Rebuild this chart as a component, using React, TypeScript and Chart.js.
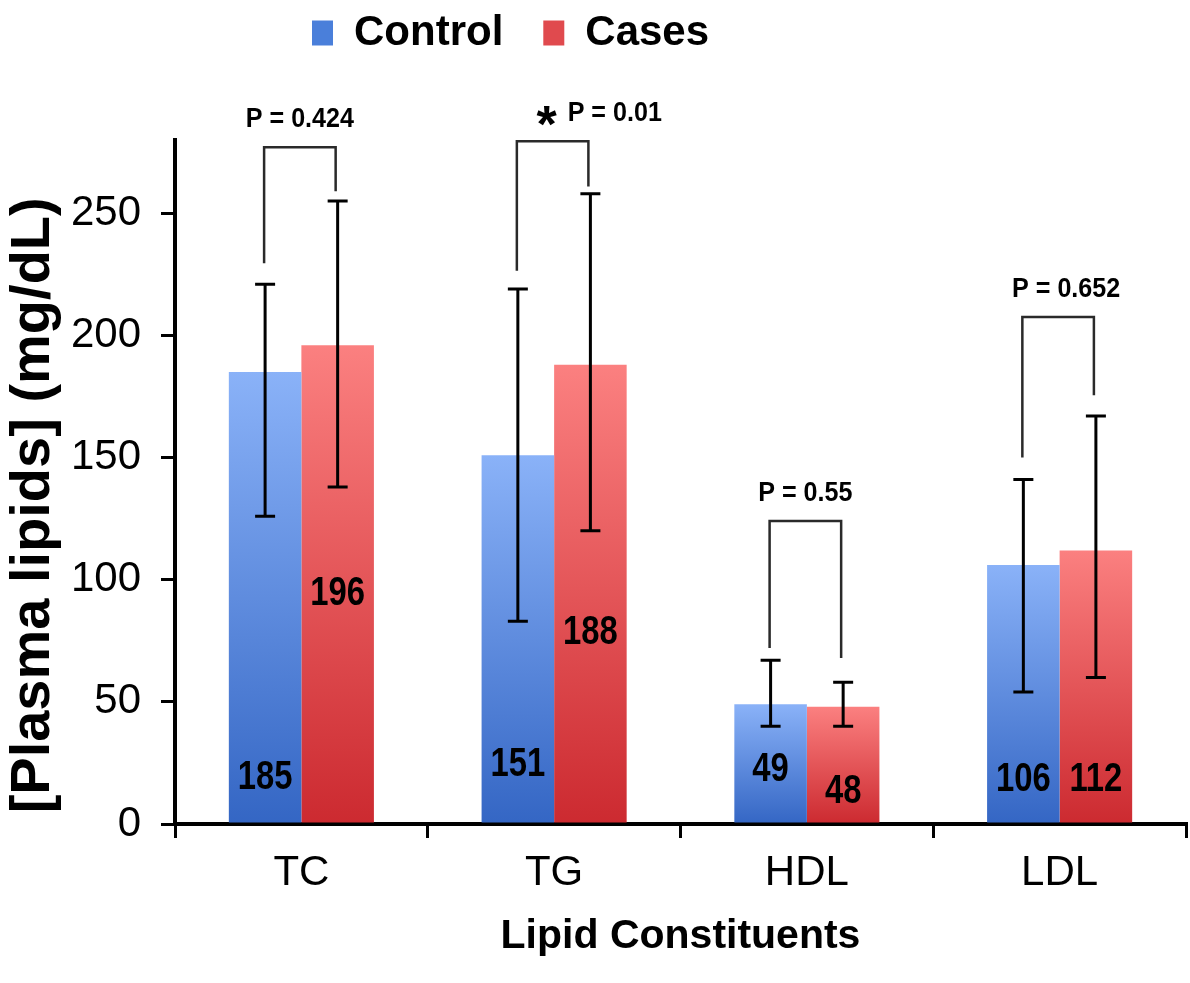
import React, { useEffect, useRef } from 'react';
import { Chart, registerables } from 'chart.js';

Chart.register(...registerables);

// ---------------- data ----------------
const categories = ['TC', 'TG', 'HDL', 'LDL'];
const seriesNames = ['Control', 'Cases'];
const controlValues = [185, 151, 49, 106];
const casesValues = [196, 188, 48, 112];
const controlErrHigh = [221, 219, 67, 141];
const controlErrLow = [126, 83, 40, 54];
const casesErrHigh = [255, 258, 58, 167];
const casesErrLow = [138, 120, 40, 60];
const pLabels = ['P = 0.424', 'P = 0.01', 'P = 0.55', 'P = 0.652'];
const significant = [false, true, false, false];
const bracketTop = [277, 279.5, 124, 207.5];
const bracketLeftEnd = [229.5, 226.5, 72, 150];
const bracketRightEnd = [259, 261, 68, 175.5];
const controlLabelAt = [19, 24, 22, 18];
const casesLabelAt = [94, 78, 13, 18];
const yTicks = [0, 50, 100, 150, 200, 250];
const yMax = 280;
const yTitle = '[Plasma lipids] (mg/dL)\u00A0\u00A0\u00A0';
const xTitle = 'Lipid Constituents';

// ---------------- styles ----------------
const FONT = '"Liberation Sans", Arial, Helvetica, sans-serif';
const NARROW_NAME = 'Liberation Sans Narrow';
const blueTop = '#8AB2F8';
const blueBottom = '#3466C4';
const redTop = '#FB8080';
const redBottom = '#CC2A30';
const legendColors = ['#4A7FDA', '#E04A4E'];

function hasFont(name: string) {
  const c = document.createElement('canvas').getContext('2d');
  if (!c) return false;
  const s = 'Control Cases 0123456789';
  c.font = '40px monospace';
  const a = c.measureText(s).width;
  c.font = `40px "${name}", monospace`;
  const b = c.measureText(s).width;
  return Math.abs(a - b) > 0.5;
}

function gradientFill(top: string, bottom: string) {
  return (c: any) => {
    const chart = c.chart;
    if (!chart.chartArea || c.type !== 'data') return bottom;
    const ys = chart.scales.y;
    const t = ys.getPixelForValue(c.raw);
    const b = ys.getPixelForValue(0);
    const g = chart.ctx.createLinearGradient(0, t, 0, b);
    g.addColorStop(0, top);
    g.addColorStop(1, bottom);
    return g;
  };
}

function drawNarrow(ctx: CanvasRenderingContext2D, text: string, x: number, y: number, font: string, sx: number, align: CanvasTextAlign = 'center') {
  ctx.save();
  ctx.translate(x, y);
  ctx.scale(sx, 1);
  ctx.font = font;
  ctx.textAlign = align;
  ctx.textBaseline = 'middle';
  ctx.fillStyle = '#000';
  ctx.fillText(text, 0, 0);
  ctx.restore();
}

export default function App() {
  const ref = useRef<HTMLCanvasElement | null>(null);

  useEffect(() => {
    if (!ref.current) return;
    Chart.defaults.font.family = FONT;
    Chart.defaults.color = '#000';

    const narrow = hasFont(NARROW_NAME);
    const NFONT = `"${NARROW_NAME}", ${FONT}`;
    const cfg = narrow
      ? {
          legendFont: { family: NFONT, size: 52, weight: 'bold' as const },
          legendLeft: 265, legendTop: -33, legendPad: 40,
          xTitleFont: { family: NFONT, size: 50, weight: 'bold' as const },
          xTitlePad: 18,
          valueFont: `bold 41px ${NFONT}`, valueSx: 1,
          pFont: `bold 31px ${NFONT}`, pSx: 1,
        }
      : {
          legendFont: { family: FONT, size: 42, weight: 'bold' as const },
          legendLeft: 272, legendTop: -28, legendPad: 40,
          xTitleFont: { family: FONT, size: 41, weight: 'bold' as const },
          xTitlePad: 22,
          valueFont: `bold 40px ${FONT}`, valueSx: 0.82,
          pFont: `bold 27px ${FONT}`, pSx: 0.93,
        };

    const layoutPlugin = {
      id: 'layoutFix',
      afterInit(chart: any) {
        const lg = chart.legend;
        if (lg && !lg.__patched) {
          const orig = lg.fit.bind(lg);
          lg.fit = function () {
            orig();
            this.height = 140;
          };
          lg.__patched = true;
        }
      },
      afterLayout(chart: any) {
        const lg = chart.legend;
        if (lg) {
          lg.left = cfg.legendLeft;
          lg.top = cfg.legendTop;
        }
      },
    };

    const overlayPlugin = {
      id: 'overlay',
      afterDatasetsDraw(chart: any) {
        const ctx: CanvasRenderingContext2D = chart.ctx;
        const ys = chart.scales.y;
        const m0 = chart.getDatasetMeta(0);
        const m1 = chart.getDatasetMeta(1);
        const py = (v: number) => ys.getPixelForValue(v);

        const err = (x: number, hi: number, lo: number) => {
          ctx.save();
          ctx.strokeStyle = '#000';
          ctx.lineWidth = 3;
          ctx.beginPath();
          ctx.moveTo(x, py(hi));
          ctx.lineTo(x, py(lo));
          ctx.moveTo(x - 10, py(hi));
          ctx.lineTo(x + 10, py(hi));
          ctx.moveTo(x - 10, py(lo));
          ctx.lineTo(x + 10, py(lo));
          ctx.stroke();
          ctx.restore();
        };

        categories.forEach((_, i) => {
          const x0 = m0.data[i].x;
          const x1 = m1.data[i].x;
          err(x0, controlErrHigh[i], controlErrLow[i]);
          err(x1, casesErrHigh[i], casesErrLow[i]);

          drawNarrow(ctx, String(controlValues[i]), x0, py(controlLabelAt[i]), cfg.valueFont, cfg.valueSx);
          drawNarrow(ctx, String(casesValues[i]), x1, py(casesLabelAt[i]), cfg.valueFont, cfg.valueSx);

          const lx = x0 - 1;
          const rx = x1 - 2;
          ctx.save();
          ctx.strokeStyle = '#2a2a2a';
          ctx.lineWidth = 2.5;
          ctx.beginPath();
          ctx.moveTo(lx, py(bracketLeftEnd[i]));
          ctx.lineTo(lx, py(bracketTop[i]));
          ctx.lineTo(rx, py(bracketTop[i]));
          ctx.lineTo(rx, py(bracketRightEnd[i]));
          ctx.stroke();
          ctx.restore();

          const mid = (lx + rx) / 2;
          const ly = py(bracketTop[i]) - 28;
          if (significant[i]) {
            ctx.save();
            ctx.font = `bold 52px ${FONT}`;
            ctx.textAlign = 'center';
            ctx.textBaseline = 'alphabetic';
            ctx.fillStyle = '#000';
            const m = ctx.measureText('*');
            const off = (m.actualBoundingBoxAscent - m.actualBoundingBoxDescent) / 2;
            ctx.fillText('*', mid - 6, ly + 3 + off);
            ctx.restore();
            drawNarrow(ctx, pLabels[i], mid + 15, ly, cfg.pFont, cfg.pSx, 'left');
          } else {
            drawNarrow(ctx, pLabels[i], mid + (i === 3 ? 8 : 0), ly, cfg.pFont, cfg.pSx);
          }
        });
      },
    };

    const chart = new Chart(ref.current, {
      type: 'bar',
      data: {
        labels: categories,
        datasets: [
          {
            label: seriesNames[0],
            data: controlValues,
            backgroundColor: gradientFill(blueTop, blueBottom),
            borderWidth: 0,
            barPercentage: 1,
            categoryPercentage: 0.574,
          },
          {
            label: seriesNames[1],
            data: casesValues,
            backgroundColor: gradientFill(redTop, redBottom),
            borderWidth: 0,
            barPercentage: 1,
            categoryPercentage: 0.574,
          },
        ],
      },
      options: {
        animation: false,
        responsive: true,
        maintainAspectRatio: false,
        layout: { padding: { left: 0, right: 4, top: 0, bottom: 0 } },
        plugins: {
          tooltip: { enabled: false },
          legend: {
            display: true,
            position: 'top',
            align: 'start',
            labels: {
              boxWidth: 21,
              boxHeight: 25,
              padding: cfg.legendPad,
              color: '#000',
              font: cfg.legendFont,
              generateLabels: (ch: any) => {
                const items = Chart.defaults.plugins.legend.labels.generateLabels(ch);
                return items.map((it: any, i: number) => ({
                  ...it,
                  fillStyle: legendColors[i],
                  strokeStyle: legendColors[i],
                  lineWidth: 0,
                }));
              },
            },
          },
        },
        scales: {
          x: {
            type: 'category',
            position: 'bottom',
            z: 1,
            offset: true,
            grid: {
              display: true,
              offset: true,
              drawOnChartArea: false,
              drawTicks: true,
              tickLength: 14,
              lineWidth: 3,
              color: '#000',
            },
            border: { display: true, width: 4, color: '#000' },
            ticks: {
              color: '#000',
              padding: 10,
              font: { family: FONT, size: 42 },
            },
            title: {
              display: true,
              text: xTitle,
              color: '#000',
              padding: { top: 0, bottom: cfg.xTitlePad },
              font: cfg.xTitleFont,
            },
            afterFit: (s: any) => {
              s.height = 159;
            },
          },
          y: {
            type: 'linear',
            min: 0,
            max: yMax,
            z: 1,
            grid: {
              display: true,
              drawOnChartArea: false,
              drawTicks: true,
              tickLength: 14,
              lineWidth: 3,
              color: '#000',
            },
            border: { display: true, width: 4, color: '#000' },
            afterBuildTicks: (s: any) => {
              s.ticks = yTicks.map((v) => ({ value: v }));
            },
            ticks: {
              color: '#000',
              padding: 20,
              font: { family: FONT, size: 42 },
            },
            title: {
              display: true,
              text: yTitle,
              color: '#000',
              padding: { top: 0, bottom: 0 },
              font: { family: FONT, size: 56, weight: 'bold' },
            },
            afterFit: (s: any) => {
              s.width = 175;
            },
          },
        },
      },
      plugins: [layoutPlugin, overlayPlugin],
    } as any);

    return () => chart.destroy();
  }, []);

  return (
    <div style={{ position: 'fixed', left: 0, top: 0, width: 1190, height: 983, background: '#fff' }}>
      <canvas ref={ref} />
    </div>
  );
}
